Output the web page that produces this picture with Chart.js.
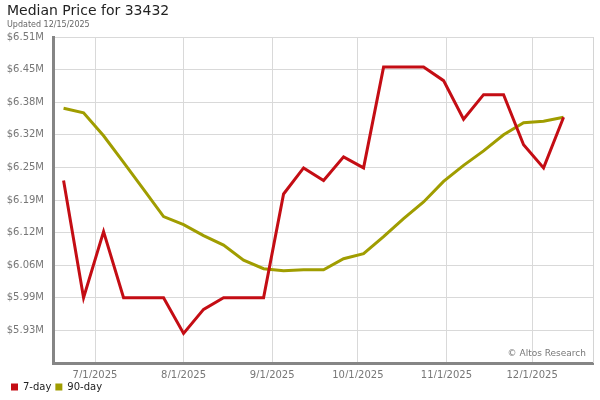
<!DOCTYPE html>
<html>
<head>
<meta charset="utf-8">
<script src="https://cdn.jsdelivr.net/npm/chart.js@4.4.1/dist/chart.umd.min.js"></script>
<style>
  html, body { margin: 0; padding: 0; background: #fff; }
  #wrap { width: 600px; height: 400px; }
</style>
</head>
<body>
<div id="wrap"><canvas id="grafica" width="600" height="400"></canvas></div>
<script>
// weekly points (fridays)
const fechas = [
  "2025-06-20", "2025-06-27", "2025-07-04", "2025-07-11", "2025-07-18", "2025-07-25",
  "2025-08-01", "2025-08-08", "2025-08-15", "2025-08-22", "2025-08-29", "2025-09-05",
  "2025-09-12", "2025-09-19", "2025-09-26", "2025-10-03", "2025-10-10", "2025-10-17",
  "2025-10-24", "2025-10-31", "2025-11-07", "2025-11-14", "2025-11-21", "2025-11-28",
  "2025-12-05", "2025-12-12"
];

// millones de dolares
const precio7 = [
  6.224, 5.990, 6.122, 5.990, 5.990, 5.990, 5.919, 5.967, 5.990, 5.990, 5.990, 6.197,
  6.249, 6.224, 6.271, 6.249, 6.450, 6.450, 6.450, 6.423, 6.346, 6.395, 6.395, 6.295,
  6.249, 6.350
];
const precio90 = [
  6.368, 6.359, 6.313, 6.260, 6.206, 6.152, 6.136, 6.114, 6.095, 6.065, 6.048, 6.044,
  6.046, 6.046, 6.068, 6.078, 6.112, 6.148, 6.181, 6.222, 6.254, 6.283, 6.315, 6.339,
  6.342, 6.350
];

const etiquetasX = ["7/1/2025", "8/1/2025", "9/1/2025", "10/1/2025", "11/1/2025", "12/1/2025"];
const valoresY = [5.925, 5.99, 6.055, 6.12, 6.185, 6.25, 6.315, 6.38, 6.445, 6.51];
const etiquetasY = ["$5.93M", "$5.99M", "$6.06M", "$6.12M", "$6.19M", "$6.25M", "$6.32M", "$6.38M", "$6.45M", "$6.51M"];

const colorRojo = "#c40d14";
const colorOliva = "#a09d00";
const fuente = "'DejaVu Sans', Verdana, sans-serif";

// dias desde 7/1/2025
const origen = Date.UTC(2025, 6, 1);
function diaDe(str) {
  let y, m, d;
  if (str.includes("-")) {
    [y, m, d] = str.split("-").map(Number);
  } else {
    [m, d, y] = str.split("/").map(Number);
  }
  return (Date.UTC(y, m - 1, d) - origen) / 86400000;
}

const puntos7 = fechas.map((f, i) => ({ x: diaDe(f), y: precio7[i] }));
const puntos90 = fechas.map((f, i) => ({ x: diaDe(f), y: precio90[i] }));
const ticksX = etiquetasX.map((e) => diaDe(e));

const marcaAgua = {
  id: "marcaAgua",
  afterDraw(chart) {
    const { ctx, chartArea } = chart;
    ctx.save();
    // borde derecho claro
    ctx.strokeStyle = "#d4d4d4";
    ctx.lineWidth = 1;
    ctx.beginPath();
    ctx.moveTo(chartArea.right + 0.5, chartArea.top);
    ctx.lineTo(chartArea.right + 0.5, chartArea.bottom);
    ctx.stroke();
    ctx.font = "9px " + fuente;
    ctx.fillStyle = "#777";
    ctx.textAlign = "right";
    ctx.textBaseline = "middle";
    ctx.fillText("\u00a9 Altos Research", chartArea.right - 7, chartArea.bottom - 9);
    ctx.restore();
  },
};

const configuracion = {
  type: "line",
  data: {
    datasets: [
      {
        label: "7-day",
        data: puntos7,
        borderColor: colorRojo,
        backgroundColor: colorRojo,
        borderWidth: 3,
        pointRadius: 0,
        tension: 0,
      },
      {
        label: "90-day",
        data: puntos90,
        borderColor: colorOliva,
        backgroundColor: colorOliva,
        borderWidth: 3,
        pointRadius: 0,
        tension: 0,
      },
    ],
  },
  options: {
    responsive: false,
    animation: false,
    layout: { padding: { left: 7, right: 7, top: 0, bottom: 6 } },
    plugins: {
      title: {
        display: true,
        text: "Median Price for 33432",
        align: "start",
        color: "#222",
        font: { family: fuente, size: 14, weight: "normal", lineHeight: 1.2 },
        padding: { top: 3, bottom: 0 },
      },
      subtitle: {
        display: true,
        text: "Updated 12/15/2025",
        align: "start",
        color: "#666",
        font: { family: fuente, size: 8, lineHeight: 1.2 },
        padding: { top: 0, bottom: 7.6 },
      },
      legend: {
        position: "bottom",
        align: "start",
        maxHeight: 16,
        labels: {
          boxWidth: 7,
          boxHeight: 7,
          padding: 4,
          color: "#222",
          font: { family: fuente, size: 10 },
          generateLabels: (chart) =>
            Chart.defaults.plugins.legend.labels
              .generateLabels(chart)
              .map((l) => ({ ...l, lineWidth: 0 })),
        },
      },
      tooltip: { enabled: false },
    },
    scales: {
      x: {
        type: "linear",
        min: -14.7,
        max: 174.3,
        afterBuildTicks: (axis) => {
          axis.ticks = ticksX.map((v) => ({ value: v }));
        },
        afterFit: (scale) => {
          scale.height = 15;
        },
        ticks: {
          color: "#777",
          font: { family: fuente, size: 10 },
          padding: 6,
          maxRotation: 0,
          callback: (v) => etiquetasX[ticksX.indexOf(v)],
        },
        grid: { color: "#d9d9d9", drawTicks: false },
        border: { color: "#858585", width: 3 },
      },
      y: {
        min: 5.86,
        max: 6.51,
        afterBuildTicks: (axis) => {
          axis.ticks = valoresY.map((v) => ({ value: v }));
        },
        afterFit: (scale) => {
          scale.width = 46;
        },
        ticks: {
          color: "#777",
          font: { family: fuente, size: 10 },
          padding: 9,
          callback: (v) => etiquetasY[valoresY.indexOf(v)],
        },
        grid: { color: "#d9d9d9", drawTicks: false },
        border: { color: "#858585", width: 3 },
      },
    },
  },
  plugins: [marcaAgua],
};

const graficaDOM = document.querySelector("#grafica");
const grafica = new Chart(graficaDOM, configuracion);
</script>
</body>
</html>
